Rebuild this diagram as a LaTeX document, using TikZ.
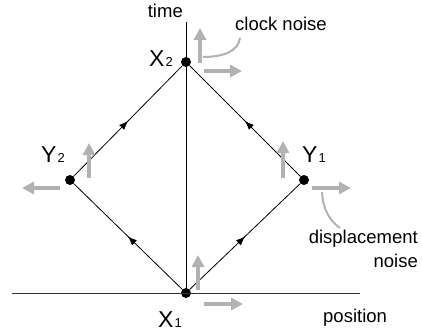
\documentclass[tikz,border=0pt]{standalone}
\usepackage{fontspec}
\setmainfont{Liberation Sans}
\usetikzlibrary{arrows.meta,decorations.markings,calc}
\definecolor{noisegray}{RGB}{178,178,178}
\begin{document}
\begin{tikzpicture}[x=1pt,y=-1pt,
  dot/.style={circle, fill=black, inner sep=0pt, minimum size=10pt},
  edge/.style={line width=0.8pt, postaction={decorate},
    decoration={markings, mark=at position 0.5 with {\arrow{Latex[length=9pt,width=7pt]}}}},
  noisearrow/.style={draw=noisegray, line width=4.5pt, -{Triangle[length=12pt,width=12pt]}},
  lbl/.style={font=\fontsize{23}{23}\selectfont, inner sep=0pt},
  txt/.style={font=\fontsize{18.5}{24}\selectfont, inner sep=0pt},
  pointer/.style={draw=noisegray, line width=2pt},
  axis/.style={line width=1pt}
]
\useasboundingbox (0,0) rectangle (422,331);
% dots
\node[dot] (X1) at (186,293) {};
\node[dot] (X2) at (186,62) {};
\node[dot] (Y1) at (304,180) {};
\node[dot] (Y2) at (70,180) {};
% axes
\coordinate (tTop) at (186,22);
\coordinate (pL) at (12,293);
\coordinate (pR) at (360,293);
\draw[axis, draw=black!80] (pL) -- (pR);
\draw[axis] (X1.center) -- (tTop);
% diamond edges
\draw[edge] (X1) -- (Y2);
\draw[edge] (X1) -- (Y1);
\draw[edge] (Y2) -- (X2);
\draw[edge] (Y1) -- (X2);
% noise arrows
\draw[noisearrow] ([shift={(14,1)}]X2.center) -- ++(0,-35);
\draw[noisearrow] ([shift={(18,9)}]X2.center) -- ++(38,0);
\draw[noisearrow] ([shift={(19,-2)}]Y2.center) -- ++(0,-35);
\draw[noisearrow] ([shift={(-10,8)}]Y2.center) -- ++(-38,0);
\draw[noisearrow] ([shift={(-21,-2)}]Y1.center) -- ++(0,-37);
\draw[noisearrow] ([shift={(8,8)}]Y1.center) -- ++(39,0);
\draw[noisearrow] ([shift={(12,-3)}]X1.center) -- ++(0,-35);
\draw[noisearrow] ([shift={(18,11)}]X1.center) -- ++(39,0);
% labels
\node[lbl, anchor=base east] (lX2) at (173,67) {X\kern1pt{\fontsize{13}{13}\selectfont 2}};
\node[lbl, anchor=base east] (lY2) at (65,162) {Y\kern1pt{\fontsize{13}{13}\selectfont 2}};
\node[lbl, anchor=base west] (lY1) at (302,162) {Y\kern1pt{\fontsize{13}{13}\selectfont 1}};
\node[lbl, anchor=base west] (lX1) at (158,327) {X\kern1pt{\fontsize{13}{13}\selectfont 1}};
\node[txt, anchor=base east] (time) at (183,18) {time};
\node[txt, anchor=base west] (clock) at (235,31) {clock noise};
\node[txt, anchor=base west] (pos) at (323,322) {position};
\node[txt, anchor=base east] (disp) at (418,243) {displacement};
\node[txt, anchor=base east] (dnoise) at (418,267) {noise};
% pointers
\coordinate (cA) at (240,38);
\coordinate (cB) at (203,57);
\draw[pointer] (cA) .. controls (238,52) and (222,57) .. (cB);
\coordinate (dA) at (322,192);
\coordinate (dB) at (340,228);
\draw[pointer] (dA) .. controls (323,210) and (330,221) .. (dB);
\end{tikzpicture}
\end{document}
